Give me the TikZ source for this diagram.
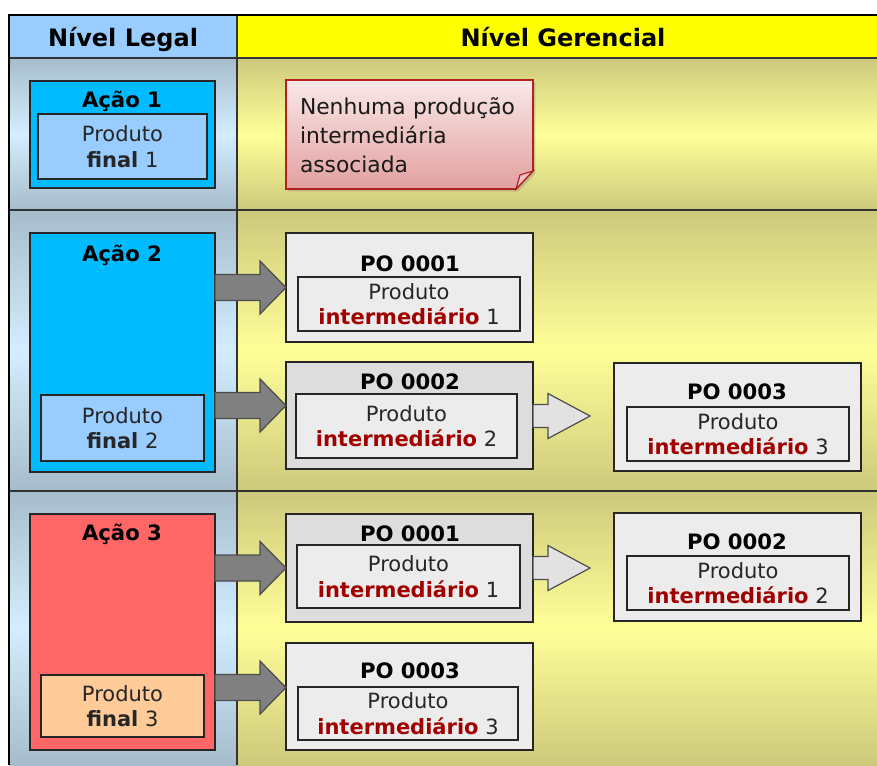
\documentclass[tikz,border=0pt]{standalone}
\usepackage{fontspec}
\setmainfont{DejaVu Sans}
\usepackage{xcolor}
\usetikzlibrary{calc,shadows}
\definecolor{legalhead}{RGB}{153,204,255}
\definecolor{gerhead}{RGB}{255,255,0}
\definecolor{legaledge}{RGB}{166,188,203}
\definecolor{legalmid}{RGB}{212,238,255}
\definecolor{geredge}{RGB}{205,201,124}
\definecolor{germid}{RGB}{255,255,153}
\definecolor{acaoblue}{RGB}{0,187,255}
\definecolor{finalblue}{RGB}{153,204,255}
\definecolor{acaored}{RGB}{255,102,102}
\definecolor{finalpeach}{RGB}{255,204,153}
\definecolor{polight}{RGB}{236,236,236}
\definecolor{podark}{RGB}{221,221,221}
\definecolor{intred}{RGB}{160,0,0}
\definecolor{notetop}{RGB}{250,232,232}
\definecolor{notebot}{RGB}{226,160,160}
\definecolor{noteline}{RGB}{178,34,34}
\definecolor{arrowdark}{RGB}{128,128,128}
\definecolor{arrowpale}{RGB}{226,226,226}
\newcommand\bodyfont{\fontsize{10.5}{12.8}\selectfont}
\newcommand\titlefont{\fontsize{10.6}{12.8}\selectfont\bfseries}
\newcommand\headfont{\fontsize{12}{14}\selectfont\bfseries}
\newcommand\intm{\textcolor{intred}{\textbf{intermediário}}}
\tikzstyle{darkfat} = [fill=arrowdark,draw=black!70,line width=0.6pt,line join=miter]
\tikzstyle{palefat} = [fill=arrowpale,draw=black!70,line width=0.6pt,line join=miter]
\newcommand\darkarrow[3]{%
  \draw[darkfat] let \p1=(#1.east), \p2=([yshift=#3]#2) in
    (\x1,\y2+6.5pt) -- (\x2-13pt,\y2+6.5pt) -- (\x2-13pt,\y2+13.25pt) -- (\x2,\y2)
    -- (\x2-13pt,\y2-13.25pt) -- (\x2-13pt,\y2-6.5pt) -- (\x1,\y2-6.5pt) -- cycle;}
\newcommand\palearrow[2]{%
  \draw[palefat] let \p1=(#1.east), \p2=(#2) in
    (\x1,\y2+5.75pt) -- (\x2-21pt,\y2+5.75pt) -- (\x2-21pt,\y2+11.25pt) -- (\x2,\y2)
    -- (\x2-21pt,\y2-11.25pt) -- (\x2-21pt,\y2-5.75pt) -- (\x1,\y2-5.75pt) -- cycle;}

\begin{document}
\begin{tikzpicture}[x=0.5pt, y=-0.5pt,
  box/.style={draw=black!85, line width=0.8pt, anchor=north west, inner sep=0pt, outer sep=0pt,
    drop shadow={shadow xshift=0.7pt, shadow yshift=-0.7pt, opacity=0.3}},
  acaobox/.style={box, fill=acaoblue},
  finalbox/.style={box, fill=finalblue, align=center, font=\bodyfont, text=black!85},
  pobox/.style={box, fill=polight},
  inbox/.style={box, fill=polight, align=center, font=\bodyfont, text=black!85, drop shadow={opacity=0}},
  titletext/.style={anchor=base, font=\titlefont, inner sep=0pt},
  headtext/.style={anchor=base, font=\headfont, inner sep=0pt},
  gridline/.style={draw=black!80, line width=0.7pt}]
\useasboundingbox (0,0) rectangle (877,765);
% Header
\fill[legalhead] (9,15) rectangle (237,58);
\fill[gerhead] (237,15) rectangle (877,58);
\node[headtext] (hlegal) at (123,47) {Nível Legal};
\node[headtext] (hger) at (563,47) {Nível Gerencial};

% Rows
\shade[top color=legaledge, bottom color=legaledge, middle color=legalmid] (9,58) rectangle (237,210);
\shade[top color=geredge, bottom color=geredge, middle color=germid] (237,58) rectangle (877,210);
\shade[top color=legaledge, bottom color=legaledge, middle color=legalmid] (9,210) rectangle (237,491);
\shade[top color=geredge, bottom color=geredge, middle color=germid] (237,210) rectangle (877,491);
\shade[top color=legaledge, bottom color=legaledge, middle color=legalmid] (9,491) rectangle (237,765);
\shade[top color=geredge, bottom color=geredge, middle color=germid] (237,491) rectangle (877,765);
\draw[gridline] (9,58) -- (877,58);
\draw[gridline] (9,210) -- (877,210);
\draw[gridline] (9,491) -- (877,491);
\draw[gridline] (237,15) -- (237,765);
\draw[black, line width=1pt] (9,765) -- (9,15) -- (877,15);

% Acao 1
\node[acaobox, minimum width=92.5pt, minimum height=53.5pt] (a1) at (30,81) {};
\node[titletext] (a1t) at (122,108) {Ação 1};
\node[finalbox, minimum width=84.5pt, minimum height=32.5pt] (f1) at (38,114) {Produto\\\textbf{final} 1};
\shade[top color=notetop, bottom color=notebot, draw=noteline, line width=0.8pt,
  drop shadow={shadow xshift=1.2pt, shadow yshift=-1.2pt, opacity=0.35}]
  (286,80) -- (533,80) -- (533,171) -- (516,189) -- (286,189) -- cycle;
\filldraw[fill=notetop!50!notebot, draw=noteline, line width=0.6pt] (516,189) -- (533,171) -- (520,175) -- cycle;
\node[text width=110pt, align=left, font=\fontsize{10.9}{14.5}\selectfont, text=black!90, inner sep=0pt]
  (note) at (410,135) {Nenhuma produção\\intermediária\\associada};

% Acao 2
\node[acaobox, minimum width=92.5pt, minimum height=119.5pt] (a2) at (30,233) {};
\node[titletext] (a2t) at (122,261) {Ação 2};
\node[finalbox, minimum width=81.5pt, minimum height=33pt] (f2) at (41,395) {Produto\\\textbf{final} 2};
\node[pobox, minimum width=123.5pt, minimum height=54.5pt] (po21) at (286,233) {};
\node[titletext] (po21t) at (410,271) {PO 0001};
\node[inbox, minimum width=111pt, minimum height=27pt] (po21i) at (298,277) {Produto\\\intm{} 1};
\node[pobox, fill=podark, minimum width=123.5pt, minimum height=53.5pt] (po22) at (286,362) {};
\node[titletext] (po22t) at (410,389) {PO 0002};
\node[inbox, minimum width=110.5pt, minimum height=32pt] (po22i) at (296,394) {Produto\\\intm{} 2};
\node[pobox, minimum width=123.5pt, minimum height=54pt] (po23) at (614,363) {};
\node[titletext] (po23t) at (737,399) {PO 0003};
\node[inbox, minimum width=111pt, minimum height=27pt] (po23i) at (627,407) {Produto\\\intm{} 3};
\coordinate (e22) at (590,416);
\darkarrow{a2}{po21.west}{0pt}
\darkarrow{a2}{po22.west}{5pt}
\palearrow{po22}{e22}

% Acao 3
\node[box, fill=acaored, minimum width=92.5pt, minimum height=118pt] (a3) at (30,514) {};
\node[titletext] (a3t) at (122,540) {Ação 3};
\node[finalbox, fill=finalpeach, minimum width=81.5pt, minimum height=31pt] (f3) at (41,675) {Produto\\\textbf{final} 3};
\node[pobox, fill=podark, minimum width=123.5pt, minimum height=54pt] (po31) at (286,514) {};
\node[titletext] (po31t) at (410,541) {PO 0001};
\node[inbox, minimum width=111.5pt, minimum height=31.5pt] (po31i) at (297,545) {Produto\\\intm{} 1};
\node[pobox, minimum width=123.5pt, minimum height=54pt] (po32) at (614,513) {};
\node[titletext] (po32t) at (737,549) {PO 0002};
\node[inbox, minimum width=111pt, minimum height=27pt] (po32i) at (627,556) {Produto\\\intm{} 2};
\node[pobox, minimum width=123.5pt, minimum height=53.5pt] (po33) at (286,643) {};
\node[titletext] (po33t) at (410,678) {PO 0003};
\node[inbox, minimum width=110pt, minimum height=26.5pt] (po33i) at (298,687) {Produto\\\intm{} 3};
\coordinate (e31) at (590,568);
\darkarrow{a3}{po31.west}{0pt}
\darkarrow{a3}{po33.west}{4.5pt}
\palearrow{po31}{e31}
\end{tikzpicture}
\end{document}
